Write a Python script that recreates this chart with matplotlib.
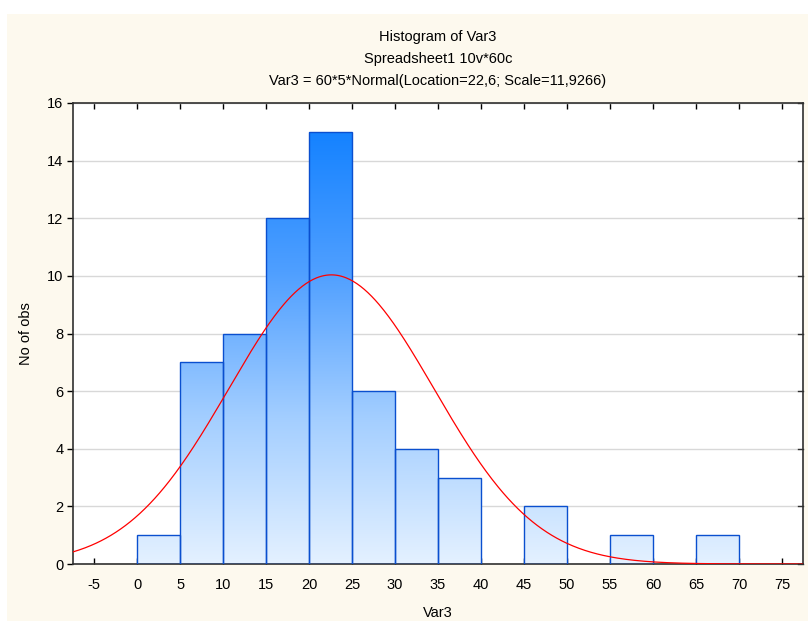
import numpy as np
import matplotlib.pyplot as plt
import matplotlib.patches as patches
from matplotlib.colors import LinearSegmentedColormap

plt.rcParams['font.family'] = ['Liberation Sans', 'DejaVu Sans']
plt.rcParams['axes.unicode_minus'] = False

# histogram bins (lower edges) and counts
bin_left = [0, 5, 10, 15, 20, 25, 30, 35, 40, 45, 50, 55, 60, 65]
counts = [1, 7, 8, 12, 15, 6, 4, 3, 0, 2, 0, 1, 0, 1]
bin_width = 5

# fitted normal
n_obs = 60
loc = 22.6
scale = 11.9266

xticks = list(range(-5, 80, 5))
yticks = list(range(0, 17, 2))

fig = plt.figure(figsize=(8.08, 6.21), dpi=100, facecolor='white')
# cream panel behind everything
fig.patches.append(patches.Rectangle((7/808, 0), 1, 1 - 14/621, transform=fig.transFigure,
                                     facecolor='#fdf9ee', edgecolor='none', zorder=-10))

ax = fig.add_axes([73/808, 1 - 564/621, 730/808, 461/621])
ax.set_facecolor('white')
ax.set_xlim(-7.45, 77.45)
ax.set_ylim(0, 16)

cmap = LinearSegmentedColormap.from_list('bars', ['#e4f1ff', '#a3ceff', '#4f9fff', '#1281ff'])
grad = np.linspace(0, 1, 256).reshape(-1, 1)

for x0, c in zip(bin_left, counts):
    if c == 0:
        continue
    rect = patches.Rectangle((x0, 0), bin_width, c, facecolor='none',
                             edgecolor='#0a4fcf', linewidth=1.0, zorder=3)
    ax.add_patch(rect)
    im = ax.imshow(grad, extent=(x0, x0 + bin_width, 0, 15.2), origin='lower',
                   cmap=cmap, aspect='auto', zorder=2)
    im.set_clip_path(rect)

xs = np.linspace(-7.45, 77.45, 600)
ys = n_obs * bin_width * np.exp(-0.5 * ((xs - loc) / scale) ** 2) / (scale * np.sqrt(2 * np.pi))
ax.plot(xs, ys, color='#ff0000', linewidth=0.9, zorder=4)

ax.set_xticks(xticks)
ax.set_yticks(yticks)
ax.yaxis.grid(True, color='#d8d8d8', linewidth=1.0, zorder=0)
ax.set_axisbelow(True)
ax.tick_params(axis='x', direction='in', top=True, length=4, width=1, labelsize=10.5, pad=10)
ax.tick_params(axis='y', direction='out', length=4, width=1, labelsize=10.5, pad=3)
for s in ax.spines.values():
    s.set_color('#303030')
    s.set_linewidth(1.2)

# inward ticks on the right
for yt in yticks:
    ax.plot([77.45 - 0.55, 77.45], [yt, yt], color='#303030', linewidth=1, clip_on=False, zorder=5)

ax.set_xlabel('Var3', fontsize=10.5, labelpad=10)
ax.set_ylabel('No of obs', fontsize=10.5, labelpad=10)

fig.text(438/808, 1 - 37/621, 'Histogram of Var3', ha='center', va='center', fontsize=10.5)
fig.text(438/808, 1 - 59/621, 'Spreadsheet1 10v*60c', ha='center', va='center', fontsize=10.5)
fig.text(438/808, 1 - 81/621, 'Var3 = 60*5*Normal(Location=22,6; Scale=11,9266)',
         ha='center', va='center', fontsize=10.5)

fig.savefig('out.png', dpi=100, facecolor=fig.get_facecolor())
